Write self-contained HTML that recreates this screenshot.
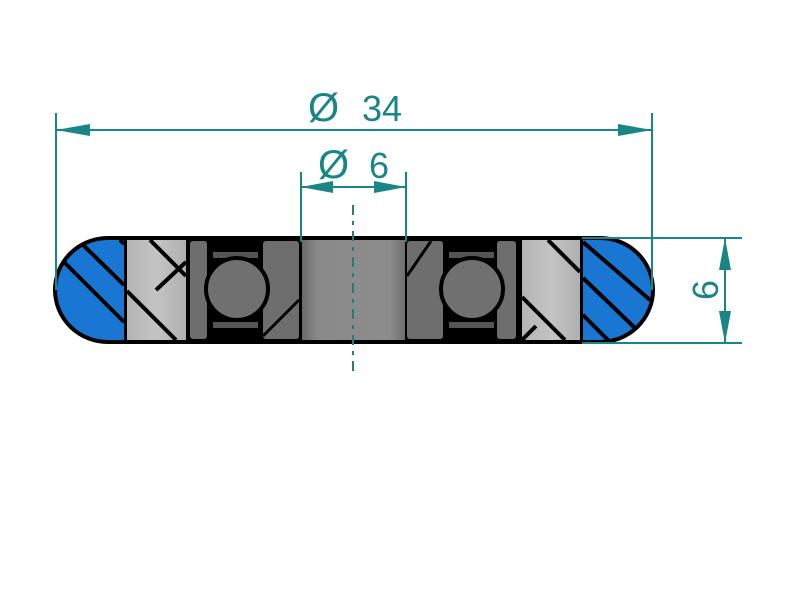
<!DOCTYPE html>
<html><head><style>html,body{margin:0;padding:0;background:#fff;width:800px;height:600px;overflow:hidden}</style></head>
<body>
<svg width="800" height="600" viewBox="0 0 800 600" xmlns="http://www.w3.org/2000/svg">
<defs>
<clipPath id="outer"><path d="M108 238 H600 A53 52 0 0 1 600 342 H108 A53 52 0 0 1 108 238 Z"/></clipPath>
<linearGradient id="sh" x1="0" x2="1"><stop offset="0" stop-color="#6a6a6a"/><stop offset="0.15" stop-color="#8a8a8a"/><stop offset="0.85" stop-color="#8c8c8c"/><stop offset="1" stop-color="#6e6e6e"/></linearGradient>
<linearGradient id="lg" x1="0" x2="1"><stop offset="0" stop-color="#b4b4b4"/><stop offset="0.5" stop-color="#c4c4c4"/><stop offset="1" stop-color="#b0b0b0"/></linearGradient>
</defs>
<rect width="800" height="600" fill="#fff"/>
<g clip-path="url(#outer)">
 <rect x="50" y="230" width="700" height="120" fill="#000"/>
 <rect x="50" y="240" width="74" height="100" fill="#1976d2"/>
 <g stroke="#000" stroke-width="4">
  <line x1="78" y1="240" x2="124" y2="285"/>
  <line x1="60" y1="258" x2="124" y2="322"/>
  <line x1="120" y1="240" x2="124" y2="244"/>
 </g>
 <rect x="583" y="240" width="80" height="100" fill="#1976d2"/>
 <g stroke="#000" stroke-width="4">
  <line x1="583" y1="242" x2="650" y2="300"/>
  <line x1="583" y1="278" x2="635" y2="328"/>
  <line x1="583" y1="315" x2="610" y2="342"/>
 </g>
</g>
<rect x="127" y="240" width="59" height="100" fill="url(#lg)"/>
<g stroke="#000" stroke-width="4">
 <line x1="150" y1="240" x2="186" y2="276"/>
 <line x1="127" y1="291" x2="176" y2="340"/>
 <line x1="156" y1="290" x2="186" y2="262"/>
</g>
<rect x="522" y="240" width="58" height="100" fill="url(#lg)"/>
<g stroke="#000" stroke-width="4">
 <line x1="548" y1="240" x2="580" y2="272"/>
 <line x1="522" y1="297" x2="565" y2="340"/>
 <line x1="522" y1="340" x2="536" y2="326"/>
</g>
<g>
 <rect x="190" y="240" width="110" height="100" fill="#000"/>
 <rect x="190" y="241" width="17" height="98" rx="3" fill="#6e6e6e"/>
 <rect x="263" y="241" width="36" height="98" rx="3" fill="#6e6e6e"/>
 <line x1="263" y1="336" x2="299" y2="300" stroke="#000" stroke-width="3"/>
 <rect x="213" y="252" width="45" height="6" fill="#555"/>
 <rect x="213" y="322" width="45" height="6" fill="#555"/>
 <circle cx="237" cy="289" r="31" fill="#707070" stroke="#000" stroke-width="4"/>
</g>
<g>
 <rect x="406" y="240" width="111" height="100" fill="#000"/>
 <rect x="407" y="241" width="36" height="98" rx="3" fill="#6e6e6e"/>
 <line x1="407" y1="276" x2="431" y2="241" stroke="#000" stroke-width="3"/>
 <rect x="497" y="241" width="19" height="98" rx="3" fill="#6e6e6e"/>
 <rect x="449" y="252" width="45" height="6" fill="#555"/>
 <rect x="449" y="322" width="45" height="6" fill="#555"/>
 <circle cx="472" cy="289" r="31" fill="#707070" stroke="#000" stroke-width="4"/>
</g>
<rect x="302" y="240" width="103" height="100" fill="url(#sh)"/>
<path d="M108 238 H600 A53 52 0 0 1 600 342 H108 A53 52 0 0 1 108 238 Z" fill="none" stroke="#000" stroke-width="4"/>
<g stroke="#1a8585" stroke-width="2" fill="none">
 <line x1="56" y1="113" x2="56" y2="290"/>
 <line x1="652" y1="113" x2="652" y2="290"/>
 <line x1="56" y1="130" x2="652" y2="130"/>
 <line x1="301" y1="172" x2="301" y2="242"/>
 <line x1="406" y1="172" x2="406" y2="242"/>
 <line x1="301" y1="187" x2="406" y2="187"/>
 <line x1="582" y1="238" x2="742" y2="238"/>
 <line x1="582" y1="343" x2="742" y2="343"/>
 <line x1="725" y1="238" x2="725" y2="343"/>
 <line x1="353" y1="205" x2="353" y2="375" stroke="#2a7a7a" stroke-dasharray="10,6,4,6"/>
</g>
<g fill="#1a8585">
 <polygon points="56,130 90,124 90,136"/>
 <polygon points="652,130 618,124 618,136"/>
 <polygon points="301,187 333,181 333,193"/>
 <polygon points="406,187 374,181 374,193"/>
 <polygon points="725,238 719,270 731,270"/>
 <polygon points="725,343 719,311 731,311"/>
</g>
<g fill="#1a8585" font-family="Liberation Sans, DejaVu Sans, sans-serif" font-size="36">
 <text x="308" y="121" style="font-size:40px">Ø</text>
 <text x="362" y="121">34</text>
 <text x="318" y="178" style="font-size:40px">Ø</text>
 <text x="369" y="178">6</text>
 <text transform="translate(718,290) rotate(-90)" text-anchor="middle">6</text>
</g>
</svg>
</body></html>
